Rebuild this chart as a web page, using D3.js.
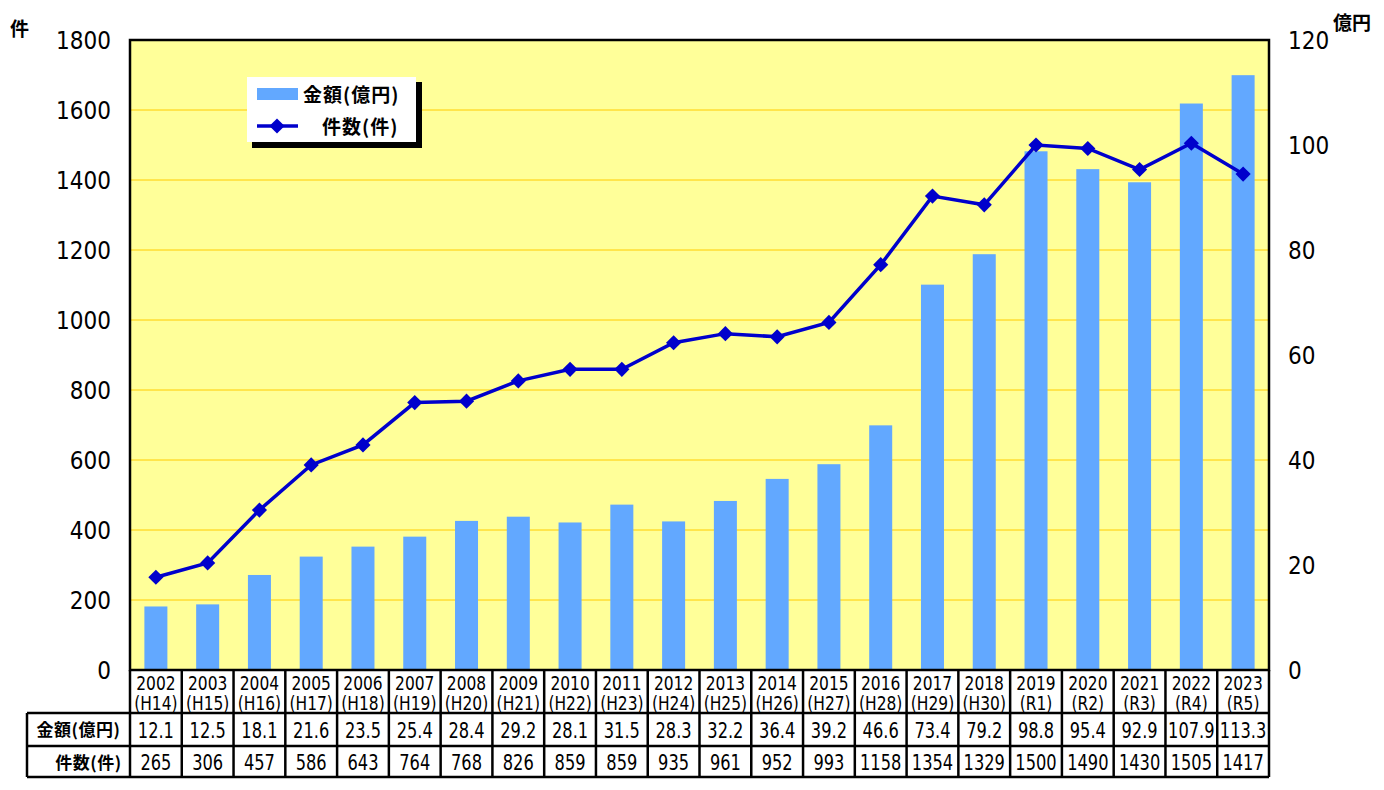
<!DOCTYPE html>
<html><head><meta charset="utf-8">
<script src="https://cdn.jsdelivr.net/npm/d3@7"></script>
<style>
body{margin:0;background:#fff;}
text{font-family:"DejaVu Sans Condensed","Noto Sans CJK JP",sans-serif;fill:#000;}
.jp{font-family:"Noto Sans CJK JP",sans-serif;font-weight:bold;}
</style></head>
<body>
<svg id="c" width="1384" height="790"></svg>
<script>
const years = ["2002","2003","2004","2005","2006","2007","2008","2009","2010","2011","2012","2013","2014","2015","2016","2017","2018","2019","2020","2021","2022","2023"];
const eras = ["(H14)","(H15)","(H16)","(H17)","(H18)","(H19)","(H20)","(H21)","(H22)","(H23)","(H24)","(H25)","(H26)","(H27)","(H28)","(H29)","(H30)","(R1)","(R2)","(R3)","(R4)","(R5)"];
const amounts = [12.1,12.5,18.1,21.6,23.5,25.4,28.4,29.2,28.1,31.5,28.3,32.2,36.4,39.2,46.6,73.4,79.2,98.8,95.4,92.9,107.9,113.3];
const counts = [265,306,457,586,643,764,768,826,859,859,935,961,952,993,1158,1354,1329,1500,1490,1430,1505,1417];
const leftTicks = [0,200,400,600,800,1000,1200,1400,1600,1800];
const rightTicks = [0,20,40,60,80,100,120];
const amountLabel = "金額(億円)";
const countLabel = "件数(件)";

const svg = d3.select("#c");
const L=130, R=1269, T=40, B=670;
const x = d3.scaleBand().domain(years).range([L,R]);
const yL = d3.scaleLinear().domain([0,1800]).range([B,T]);
const yR = d3.scaleLinear().domain([0,120]).range([B,T]);

svg.append("rect").attr("x",L).attr("y",T).attr("width",R-L).attr("height",B-T).attr("fill","#FFFF99");
svg.append("g").selectAll("line").data(leftTicks.slice(1,-1)).join("line")
  .attr("x1",L).attr("x2",R).attr("y1",d=>yL(d)).attr("y2",d=>yL(d))
  .attr("stroke","#FFCC00").attr("stroke-width",1);

// bars
const bw = 23;
svg.append("g").selectAll("rect").data(amounts).join("rect")
  .attr("x",(d,i)=>x(years[i])+x.bandwidth()/2-bw/2)
  .attr("y",d=>yR(d)).attr("width",bw).attr("height",d=>B-yR(d))
  .attr("fill","#62A8FF");

// line
const line = d3.line().x((d,i)=>x(years[i])+x.bandwidth()/2).y(d=>yL(d));
svg.append("path").datum(counts).attr("d",line).attr("fill","none").attr("stroke","#0000CC").attr("stroke-width",3.5);
const marker = d3.symbol().type(d3.symbolSquare).size(115);
svg.append("g").selectAll("path").data(counts).join("path")
  .attr("d",marker)
  .attr("transform",(d,i)=>`translate(${x(years[i])+x.bandwidth()/2},${yL(d)}) rotate(45)`)
  .attr("fill","#0000CC");

svg.append("rect").attr("x",L).attr("y",T).attr("width",R-L).attr("height",B-T).attr("fill","none").attr("stroke","#000").attr("stroke-width",2.5);

// axes labels
const axL = svg.append("g").attr("transform",`translate(${L},0)`).call(d3.axisLeft(yL).tickValues(leftTicks).tickFormat(d3.format("d")).tickSize(0).tickPadding(19));
axL.select(".domain").remove();
axL.selectAll("text").attr("font-size",24).attr("font-family",null).attr("dy","0.36em");
const axR = svg.append("g").attr("transform",`translate(${R},0)`).call(d3.axisRight(yR).tickValues(rightTicks).tickFormat(d3.format("d")).tickSize(0).tickPadding(19));
axR.select(".domain").remove();
axR.selectAll("text").attr("font-size",24).attr("font-family",null).attr("dy","0.36em");

svg.append("text").attr("class","jp").attr("x",10).attr("y",36).attr("font-size",19).text("件");
svg.append("text").attr("class","jp").attr("x",1333).attr("y",30).attr("font-size",19).text("億円");

// legend
svg.append("rect").attr("x",252).attr("y",82).attr("width",170).attr("height",66).attr("fill","#000");
svg.append("rect").attr("x",247).attr("y",77).attr("width",169).attr("height",65).attr("fill","#fff");
svg.append("rect").attr("x",257).attr("y",88).attr("width",41).attr("height",12).attr("fill","#62A8FF");
svg.append("text").attr("class","jp").attr("x",303).attr("y",102).attr("font-size",19).attr("letter-spacing",1).text(amountLabel);
svg.append("line").attr("x1",257).attr("x2",298).attr("y1",126).attr("y2",126).attr("stroke","#0000CC").attr("stroke-width",3.5);
svg.append("path").attr("d",marker).attr("transform","translate(277,126) rotate(45)").attr("fill","#0000CC");
svg.append("text").attr("class","jp").attr("x",322).attr("y",134).attr("font-size",19).attr("letter-spacing",1).text(countLabel);

// table
const r0=670, r1=713, r2=746, r3=777, TL=27;
const tb = svg.append("g");
const cx = (i)=>x(years[i])+x.bandwidth()/2;
const sx = 0.86;
function cellText(cls, data, y, fs, fmt){
  tb.selectAll("text."+cls).data(data).join("text").attr("class",cls)
    .attr("transform",(d,i)=>`translate(${cx(i)},${y}) scale(${sx},1)`)
    .attr("text-anchor","middle").attr("font-size",fs).text(fmt);
}
cellText("yr", years, r0+20, 20, d=>d);
cellText("era", eras, r0+40, 20, d=>d);
cellText("am", amounts, r1+25, 21, d=>d.toFixed(1));
cellText("ct", counts, r2+24, 21, d=>d);
tb.append("text").attr("class","jp").attr("x",(TL+L)/2).attr("y",r1+23).attr("text-anchor","middle").attr("font-size",17).attr("letter-spacing",0.5).text(amountLabel);
tb.append("text").attr("class","jp").attr("x",(TL+L)/2+10).attr("y",r2+23).attr("text-anchor","middle").attr("font-size",17).attr("letter-spacing",0.5).text(countLabel);
const ln=(x1,y1,x2,y2)=>tb.append("line").attr("x1",x1).attr("y1",y1).attr("x2",x2).attr("y2",y2).attr("stroke","#000").attr("stroke-width",2.5);
ln(TL,r1,R,r1); ln(TL,r2,R,r2); ln(TL,r3,R,r3);
ln(TL,r1,TL,r3);
years.forEach((y,i)=>ln(x(y),r0,x(y),r3));
ln(R,r0,R,r3);
</script>
</body></html>
